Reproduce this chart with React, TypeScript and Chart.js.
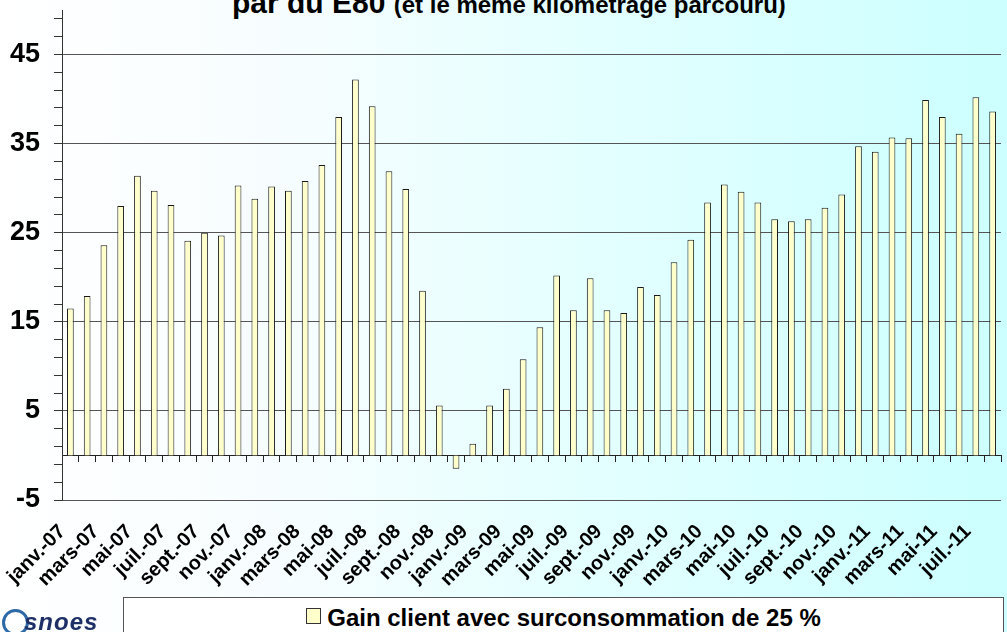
import React, { useEffect, useRef } from "react";
import { Chart, registerables } from "chart.js";

Chart.register(...registerables);

const categories = [
  "janv.-07", "févr.-07", "mars-07", "avr.-07", "mai-07", "juin-07", "juil.-07", "août-07", "sept.-07", "oct.-07", "nov.-07", "déc.-07",
  "janv.-08", "févr.-08", "mars-08", "avr.-08", "mai-08", "juin-08", "juil.-08", "août-08", "sept.-08", "oct.-08", "nov.-08", "déc.-08",
  "janv.-09", "févr.-09", "mars-09", "avr.-09", "mai-09", "juin-09", "juil.-09", "août-09", "sept.-09", "oct.-09", "nov.-09", "déc.-09",
  "janv.-10", "févr.-10", "mars-10", "avr.-10", "mai-10", "juin-10", "juil.-10", "août-10", "sept.-10", "oct.-10", "nov.-10", "déc.-10",
  "janv.-11", "févr.-11", "mars-11", "avr.-11", "mai-11", "juin-11", "juil.-11", "août-11",
];

const gainValues = [
  16.5, 17.9, 23.6, 28.0, 31.4, 29.7, 28.1, 24.1, 25.0, 24.7, 30.3, 28.8,
  30.2, 29.7, 30.8, 32.6, 38.0, 42.2, 39.2, 31.9, 29.9, 18.5, 5.6, -1.5,
  1.3, 5.6, 7.5, 10.8, 14.4, 20.2, 16.3, 19.9, 16.3, 16.0, 18.9, 18.0,
  21.7, 24.2, 28.4, 30.4, 29.6, 28.4, 26.5, 26.3, 26.5, 27.8, 29.3, 34.7,
  34.1, 35.7, 35.6, 39.9, 38.0, 36.1, 40.2, 38.6,
];

const yTickValues = [
  -5, -3, -1, 1, 3, 5, 7, 9, 11, 13, 15, 17, 19, 21, 23, 25, 27, 29, 31, 33, 35,
  37, 39, 41, 43, 45, 47, 49,
];
const yMajorTicks = [-5, 5, 15, 25, 35, 45];

const seriesLabel = "Gain client avec surconsommation de 25 %";
const titleMain = "par du E80";
const titleSub = "(et le même kilométrage parcouru)";
const logoText = "snoes";

const FONT = '"Liberation Sans", Arial, Helvetica, sans-serif';

export default function App() {
  const canvasRef = useRef<HTMLCanvasElement>(null);

  useEffect(() => {
    if (!canvasRef.current) return;
    const chart = new Chart(canvasRef.current, {
      type: "bar",
      data: {
        labels: categories,
        datasets: [
          {
            label: seriesLabel,
            data: gainValues,
            backgroundColor: "#FFFFCC",
            borderColor: "#1a1a1a",
            borderWidth: 1,
            barPercentage: 0.4,
            categoryPercentage: 1,
          },
        ],
      },
      options: {
        responsive: false,
        animation: false,
        devicePixelRatio: 1,
        layout: { padding: { top: 10, right: 6, left: 0, bottom: 0 } },
        plugins: {
          legend: { display: false },
          title: { display: false },
          tooltip: { enabled: false },
        },
        scales: {
          x: {
            type: "category",
            position: "bottom",
            offset: true,
            grid: { display: false, drawTicks: false },
            border: { display: false },
            ticks: {
              autoSkip: false,
              maxRotation: 45,
              minRotation: 45,
              padding: 20,
              labelOffset: -8,
              color: "#000",
              font: { family: FONT, size: 20, weight: "bold" },
              callback: (_v: any, i: number) => (i % 2 === 0 ? categories[i] : ""),
            },
            afterFit: (s: any) => {
              s.height = 132;
              s.paddingLeft = 0;
              s.paddingRight = 0;
            },
          },
          x2: {
            type: "category",
            position: { y: 0 },
            offset: true,
            grid: {
              offset: true,
              drawOnChartArea: false,
              drawTicks: true,
              tickLength: 6,
              color: "#222",
            },
            border: { display: true, color: "#222", width: 1 },
            ticks: { display: false },
          },
          y: {
            type: "linear",
            position: "left",
            min: -5,
            max: 50,
            afterBuildTicks: (s: any) => {
              s.ticks = yTickValues.map((v) => ({ value: v }));
            },
            afterFit: (s: any) => {
              s.width = 62;
              s.paddingTop = 0;
              s.paddingBottom = 0;
            },
            grid: {
              color: (ctx: any) =>
                ctx.tick && yMajorTicks.includes(ctx.tick.value) ? "#555" : "rgba(0,0,0,0)",
              tickColor: "#333",
              tickLength: 8,
              drawTicks: true,
              lineWidth: 1,
            },
            border: { display: true, color: "#333", width: 1 },
            ticks: {
              autoSkip: false,
              padding: 14,
              color: "#000",
              font: { family: FONT, size: 27, weight: "bold" },
              callback: (v: any) => (yMajorTicks.includes(Number(v)) ? String(v) : ""),
            },
          },
        },
      } as any,
    });
    return () => chart.destroy();
  }, []);

  return (
    <div
      style={{
        position: "fixed",
        left: 0,
        top: 0,
        width: 1007,
        height: 632,
        overflow: "hidden",
        fontFamily: FONT,
        background:
          "linear-gradient(to right, #FFFFFF 0%, #F6FDFF 30%, #E6FFFF 55%, #CCFFFF 100%)",
      }}
    >
      <div
        style={{
          position: "absolute",
          left: 232,
          top: -12,
          whiteSpace: "nowrap",
          fontWeight: "bold",
          fontSize: 30,
          lineHeight: "30px",
          color: "#000",
        }}
      >
        {titleMain} <span style={{ fontSize: 24 }}>{titleSub}</span>
      </div>
      <canvas
        ref={canvasRef}
        width={1007}
        height={632}
        style={{ position: "absolute", left: 0, top: 0 }}
      />
      <div
        style={{
          position: "absolute",
          left: 123,
          top: 597,
          width: 881,
          height: 50,
          boxSizing: "border-box",
          border: "1px solid #555",
          background: "#FFFFFF",
          display: "flex",
          justifyContent: "center",
          alignItems: "flex-start",
          paddingTop: 8,
        }}
      >
        <div
          style={{
            width: 15,
            height: 16,
            boxSizing: "border-box",
            border: "1px solid #333",
            background: "#FFFFCC",
            marginTop: 2,
            marginRight: 6,
          }}
        />
        <div
          style={{
            fontWeight: "bold",
            fontSize: 24,
            lineHeight: "24px",
            color: "#000",
            whiteSpace: "nowrap",
          }}
        >
          {seriesLabel}
        </div>
      </div>
      <div
        style={{
          position: "absolute",
          left: 2,
          top: 609,
          width: 27,
          height: 27,
          borderRadius: "50%",
          border: "3px solid #2f6aa8",
          boxSizing: "border-box",
        }}
      />
      <div
        style={{
          position: "absolute",
          left: 24,
          top: 610,
          fontSize: 24,
          lineHeight: "24px",
          fontWeight: "bold",
          fontStyle: "italic",
          color: "#1d2f66",
          letterSpacing: 1,
        }}
      >
        {logoText}
      </div>
    </div>
  );
}
